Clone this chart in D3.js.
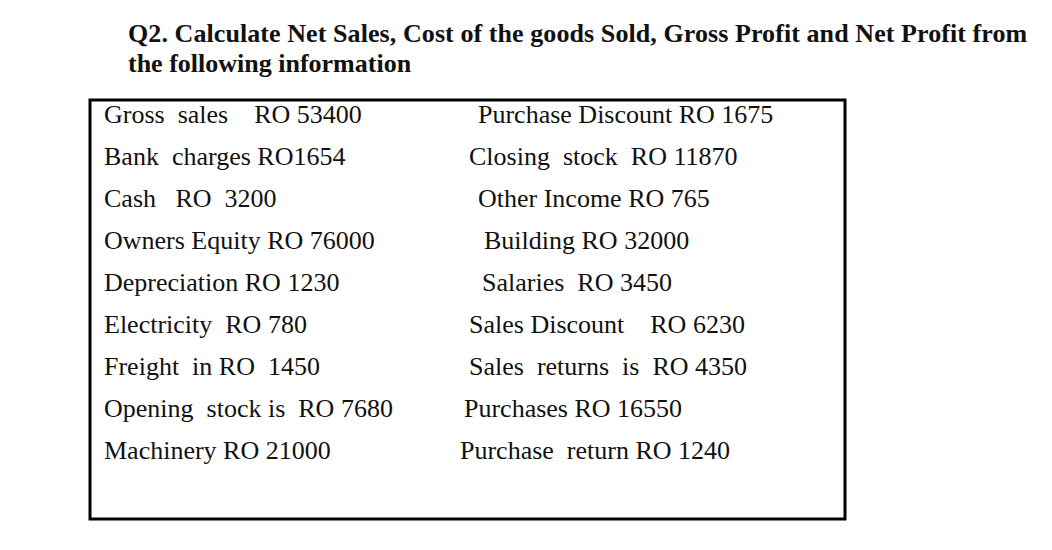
<!DOCTYPE html>
<html><head><meta charset="utf-8">
<script src="https://cdn.jsdelivr.net/npm/d3@7"></script>
<style>
html,body{margin:0;padding:0;background:#fff;}
text{white-space:pre;}
</style></head>
<body><svg id="c" width="1052" height="550"></svg>
<script>
const titleLines = [
  "Q2. Calculate Net Sales, Cost of the goods Sold, Gross Profit and Net Profit from",
  "the following information"
];
const leftItems = [
  "Gross  sales    RO 53400",
  "Bank  charges RO1654",
  "Cash   RO  3200",
  "Owners Equity RO 76000",
  "Depreciation RO 1230",
  "Electricity  RO 780",
  "Freight  in RO  1450",
  "Opening  stock is  RO 7680",
  "Machinery RO 21000"
];
const rightItems = [
  "Purchase Discount RO 1675",
  "Closing  stock  RO 11870",
  "Other Income RO 765",
  "Building RO 32000",
  "Salaries  RO 3450",
  "Sales Discount    RO 6230",
  "Sales  returns  is  RO 4350",
  "Purchases RO 16550",
  "Purchase  return RO 1240"
];
// layout (not data): per-row horizontal indents of right column
const rightIndent = [478, 469, 478, 484, 482, 469, 469, 464, 460];

const svg = d3.select("#c");
const font = "'Liberation Serif','Times New Roman',serif";

svg.selectAll("text.title").data(titleLines).join("text")
  .attr("class","title")
  .attr("x",128).attr("y",(d,i)=>42+i*30)
  .attr("font-family",font).attr("font-weight","bold").attr("font-size",26)
  .attr("letter-spacing",(d,i)=>i===0?0.08:0)
  .attr("fill","#111").text(d=>d);

svg.append("rect").attr("x",90).attr("y",100).attr("width",755).attr("height",419)
  .attr("fill","none").attr("stroke","#000").attr("stroke-width",3);

const y = d3.scalePoint().domain(d3.range(leftItems.length)).range([122.5,459]);

svg.selectAll("text.left").data(leftItems).join("text")
  .attr("class","left").attr("x",104).attr("y",(d,i)=>y(i))
  .attr("font-family",font).attr("font-size",26).attr("fill","#111").text(d=>d);

svg.selectAll("text.right").data(rightItems).join("text")
  .attr("class","right").attr("x",(d,i)=>rightIndent[i]).attr("y",(d,i)=>y(i))
  .attr("font-family",font).attr("font-size",26).attr("fill","#111").text(d=>d);
</script></body></html>
